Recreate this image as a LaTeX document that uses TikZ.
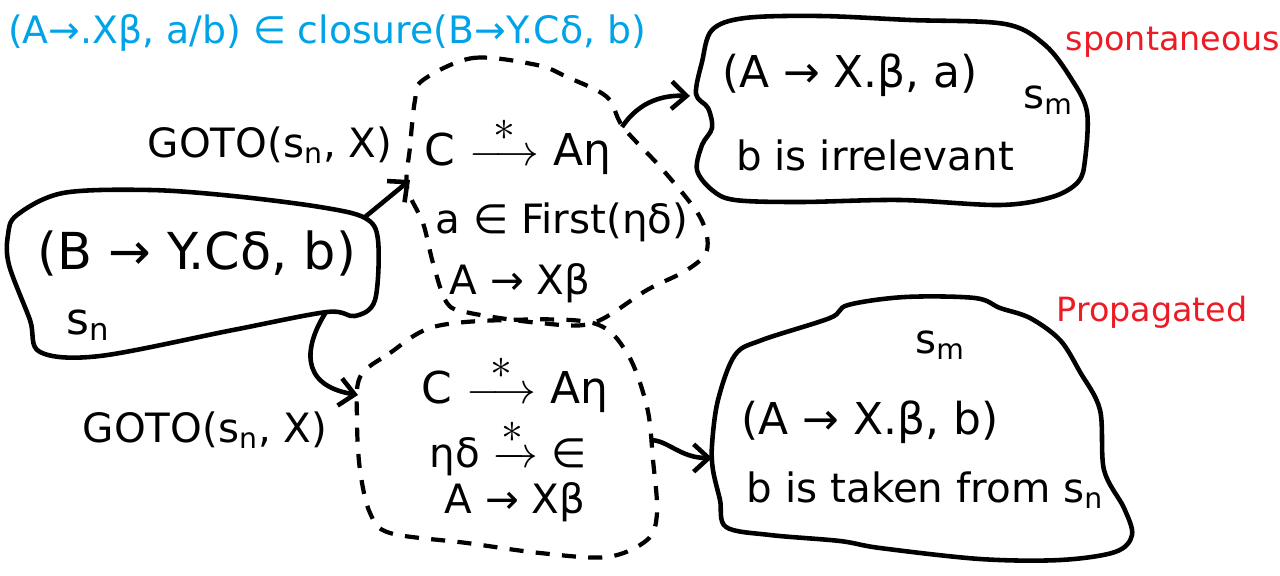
\documentclass[tikz,border=0pt]{standalone}
\usepackage{fontspec}
\setmainfont{DejaVu Sans}
\usepackage{amsmath}
\usetikzlibrary{arrows.meta}
\usepackage{xcolor}
\definecolor{paintblue}{RGB}{0,162,232}
\definecolor{paintred}{RGB}{237,28,36}
\newcommand{\fsz}[1]{\fontsize{#1}{#1}\selectfont}
\newcommand{\manysteps}{$\mathrel{\overset{\textstyle *}{\longrightarrow}}$}

\begin{document}
\begin{tikzpicture}[x=0.02cm, y=-0.02cm, >={Straight Barb[length=3mm, width=5.5mm]},
  state/.style={line width=2.6pt, line join=round},
  item/.style={line width=2.4pt, dash pattern=on 8pt off 7pt, line join=round},
  txt/.style={inner sep=0pt, font=\fsz{23}},
  tuple/.style={inner sep=0pt, font=\fsz{25}},
  note/.style={inner sep=0pt, font=\fsz{19}, text=paintred},
  edge/.style={->, line width=2.6pt}
]
\useasboundingbox (0,0) rectangle (1280,575);

% state s_n
\draw[state] plot[smooth cycle, tension=0.55] coordinates {
  (17,215) (63,193) (150,190) (233,196) (320,207) (365,218) (378,240)
  (375,300) (355,316) (327,312) (233,330) (100,356) (40,352) (30,320)
  (9,265) (8,235)};
% closure items
\draw[item] plot[smooth cycle, tension=0.55] coordinates {
  (423,80) (473,58) (537,65) (567,77) (607,97) (623,127) (663,170)
  (700,217) (707,250) (687,270) (647,290) (593,323) (540,323) (470,313)
  (447,303) (433,263) (423,223) (407,187) (410,147) (415,100)};
\draw[item] plot[smooth cycle, tension=0.55] coordinates {
  (360,377) (390,353) (433,327) (507,320) (593,323) (627,353) (647,407)
  (653,460) (657,513) (647,540) (607,557) (540,553) (467,543) (390,533)
  (370,513) (360,470) (357,420)};
% goto targets s_m
\draw[state] plot[smooth cycle, tension=0.55] coordinates {
  (712,30) (745,18) (820,16) (910,20) (1005,24) (1045,45) (1072,80)
  (1087,112) (1085,160) (1078,182) (1052,197) (1000,205) (900,200)
  (800,202) (735,200) (712,190) (697,170) (702,145) (712,128) (708,108)
  (696,94) (702,62)};
\draw[state] plot[smooth cycle, tension=0.55] coordinates {
  (735,355) (762,340) (830,318) (848,305) (905,297) (975,298) (1000,308)
  (1030,318) (1060,340) (1080,372) (1100,410) (1104,470) (1124,508)
  (1132,535) (1115,552) (1060,560) (980,559) (880,548) (840,541)
  (770,535) (726,527) (720,500) (713,470) (712,445) (718,400)};

% texts
\node[inner sep=0pt, font=\fsz{21.5}, text=paintblue] (title) at (327,33)
  {(A→.Xβ, a/b) ∈ closure(B→Y.Cδ, b)};
\node[note] (spont) at (1173,42) {spontaneous};
\node[note] (prop) at (1152,312) {Propagated};

\node[inner sep=0pt, font=\fsz{29}] (sn-item) at (197,253) {(B → Y.Cδ, b)};
\node[txt, font=\fsz{25}] (sn-name) at (88,325) {s\textsubscript{n}};

\node[txt] (goto1) at (270,145) {GOTO(s\textsubscript{n}, X)};
\node[txt] (goto2) at (205,430) {GOTO(s\textsubscript{n}, X)};

\node[txt, font=\fsz{25}] (c1) at (518,145) {C \manysteps{} Aη};
\node[txt] (first1) at (562,222) {a ∈ First(ηδ)};
\node[txt] (prod1) at (520,283) {A → Xβ};

\node[txt, font=\fsz{25}] (c2) at (515,383) {C \manysteps{} Aη};
\node[txt] (eps2) at (508,447) {ηδ $\xrightarrow{\textstyle *}$ ∈};
\node[txt] (prod2) at (515,502) {A → Xβ};

\node[tuple] (sm1-item) at (850,75) {(A → X.β, a)};
\node[txt] (sm1-name) at (1048,100) {s\textsubscript{m}};
\node[txt] (sm1-note) at (875,155) {b is irrelevant};

\node[txt] (sm2-name) at (940,345) {s\textsubscript{m}};
\node[tuple] (sm2-item) at (870,422) {(A → X.β, b)};
\node[txt] (sm2-note) at (925,490) {b is taken from s\textsubscript{n}};

% connectors
\coordinate (sn-out1) at (365,217);
\coordinate (item1-in) at (410,180);
\coordinate (sn-out2) at (326,312);
\coordinate (item2-in) at (358,395);
\coordinate (item1-out) at (622,127);
\coordinate (sm1-in) at (690,96);
\coordinate (item2-out) at (650,440);
\coordinate (sm2-in) at (712,458);
\draw[edge] (sn-out1) -- (item1-in);
\draw[edge] (sn-out2) .. controls (305,345) and (298,385) .. (item2-in);
\draw[edge] (item1-out) .. controls (640,100) and (665,95) .. (sm1-in);
\draw[edge] (item2-out) .. controls (668,440) and (680,458) .. (sm2-in);
\end{tikzpicture}
\end{document}
